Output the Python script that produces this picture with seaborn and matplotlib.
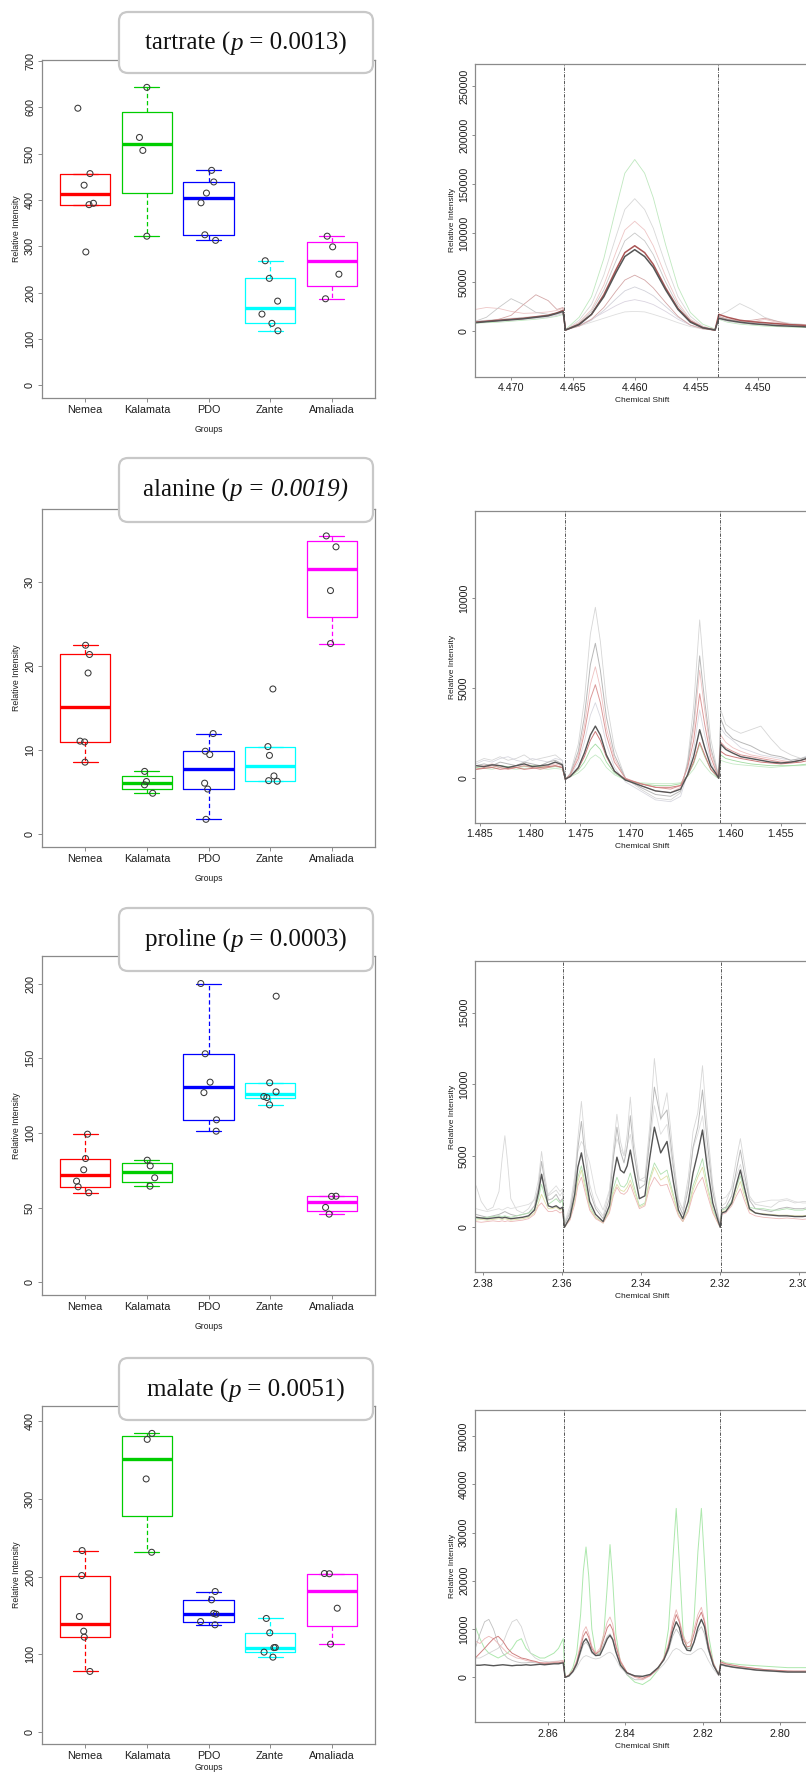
import numpy as np
import pandas as pd
import matplotlib
matplotlib.use("Agg")
import matplotlib.pyplot as plt
import matplotlib.cbook
from matplotlib.patches import FancyBboxPatch
import seaborn as sns

# ---------------- data: box plots ----------------
groups = ["Nemea", "Kalamata", "PDO", "Zante", "Amaliada"]

tartrate_nemea = [598, 457, 432, 390, 393, 288]
tartrate_kalamata = [643, 535, 507, 322]
tartrate_pdo = [464, 439, 415, 394, 325, 313]
tartrate_zante = [269, 231, 182, 154, 134, 118]
tartrate_amaliada = [322, 299, 240, 187]

alanine_nemea = [22.5, 21.4, 19.2, 11.0, 11.1, 8.6]
alanine_kalamata = [7.5, 6.3, 5.9, 4.9]
alanine_pdo = [12.0, 9.9, 9.5, 6.1, 5.4, 1.8]
alanine_zante = [17.3, 10.45, 9.4, 6.96, 6.4, 6.33]
alanine_amaliada = [35.5, 34.2, 29.0, 22.7]

proline_nemea = [99.2, 82.9, 75.4, 67.8, 64.0, 60.0]
proline_kalamata = [81.8, 78.0, 70.0, 64.4]
proline_pdo = [200, 153, 134, 127, 108.8, 101.2]
proline_zante = [191.5, 133.6, 127.5, 124.4, 123.7, 118.8]
proline_amaliada = [57.7, 57.6, 50.2, 45.7]

malate_nemea = [233.5, 201.3, 148.5, 129.6, 121.9, 77.7]
malate_kalamata = [384.5, 376.8, 325.8, 231.3]
malate_pdo = [180.7, 170, 152.5, 151.5, 142, 137.8]
malate_zante = [146, 127.5, 108.6, 108.4, 102.6, 96.1]
malate_amaliada = [203.9, 203.6, 159.2, 112.9]

# title pieces: (text, italic)
titles = [
    [("tartrate (", False), ("p", True), (" = 0.0013)", False)],
    [("alanine (", False), ("p = 0.0019)", True)],
    [("proline (", False), ("p", True), (" = 0.0003)", False)],
    [("malate (", False), ("p", True), (" = 0.0051)", False)],
]

box_yticks = [[0, 100, 200, 300, 400, 500, 600, 700],
              [0, 10, 20, 30],
              [0, 50, 100, 150, 200],
              [0, 100, 200, 300, 400]]

# ---------------- data: spectra ----------------
# tartrate region (intensities in thousands)
s1_shift = [4.4729, 4.4720, 4.4710, 4.4700, 4.4690, 4.4680, 4.4670, 4.4663, 4.4658,
            4.4656, 4.4645, 4.4635, 4.4625, 4.4615, 4.4608, 4.4600, 4.4592, 4.4585, 4.4575, 4.4565, 4.4555, 4.4545, 4.4535,
            4.4532, 4.4525, 4.4515, 4.4505, 4.4495, 4.4485, 4.4475, 4.4465, 4.4459]
s1_k = [
    [8, 8.5, 9, 10, 11, 12, 13.5, 15, 17,
     1.5, 14, 35, 74, 126, 161, 175, 161, 136, 88, 45, 19, 7, 2,
     12, 9, 7, 6, 5, 4.5, 4, 3.8, 3.5],
    [10, 11, 12, 13, 14, 15, 16.5, 18, 20,
     1, 11, 27, 57, 97, 124, 135, 124, 105, 68, 35, 15, 5, 1.5,
     16, 20, 28, 22, 14, 10, 8, 7, 6],
    [22, 24, 23, 20, 18, 18.5, 19.5, 21, 23,
     1, 9, 22, 47, 81, 103, 112, 103, 87, 56, 29, 12, 4.5, 1,
     14, 12, 10, 9, 12, 9, 7, 6, 5.5],
    [10, 14, 24, 33, 27, 19, 17, 18, 20,
     1, 8, 20, 42, 72, 92, 100, 92, 78, 50, 26, 11, 4, 1,
     15, 12, 10, 8.5, 7.5, 7, 6, 5.5, 5],
    [10, 10.5, 11, 12, 13, 14, 15, 17, 19,
     1.5, 5, 11, 21, 33, 41, 45, 41, 36, 25, 14, 6, 2.5, 1,
     14, 11, 9, 8, 7, 6.5, 6, 5.5, 5],
    [9, 9.5, 10, 11, 12, 13, 14, 16, 18,
     2, 6, 12, 19, 26, 30, 32, 30, 27, 20, 12, 6, 2.5, 1,
     13, 10, 8.5, 7.5, 7, 6, 5.5, 5, 5],
    [9.5, 10, 10.5, 11.5, 12.5, 13.5, 15, 17, 19,
     2, 5, 9, 13, 17, 19.5, 20, 19.5, 17, 13, 8.5, 4.5, 2, 1,
     12, 10, 8, 7, 6.5, 6, 5.5, 5, 4.8],
    [9, 10, 12, 16, 27, 37, 31, 22, 24,
     1, 5, 12, 24, 41, 52, 57, 52, 44, 29, 15, 6, 2.3, 0.6,
     15, 12, 10, 11, 13, 10, 7, 6, 5.5],
    [9, 10, 11, 12, 13, 14.5, 16, 18.5, 21,
     1, 7, 17, 37, 63, 80, 87, 80, 68, 44, 23, 10, 3.5, 1,
     17, 14, 11, 9.5, 8.5, 7.5, 6.5, 6, 5.5],
    [8.5, 9.5, 10.5, 11.5, 12.5, 14, 15.5, 18, 20,
     1, 6.5, 17, 35, 60, 76, 83, 76, 65, 42, 22, 9, 3.3, 1,
     13, 11, 9, 7.5, 6.5, 5.5, 5, 4.5, 4],
]
s1_colors = ["#bfe8bf", "#d8d8d8", "#eec6c6", "#c8c8c8", "#d2d2da", "#dad4e0",
             "#dedede", "#d4a8a8", "#aa5656", "#555555"]
s1_widths = [0.6, 0.6, 0.6, 0.6, 0.6, 0.6, 0.6, 0.6, 1.1, 1.1]

# alanine region
s2_shift = [1.4854, 1.4846, 1.4838, 1.4830, 1.4822, 1.4814, 1.4806, 1.4798, 1.4790, 1.4782, 1.4775, 1.4768,
            1.4765, 1.4760, 1.4752, 1.4746, 1.4740, 1.4735, 1.4730, 1.4724, 1.4716, 1.4705, 1.4690, 1.4675,
            1.4660, 1.4650, 1.4643, 1.4637, 1.4631, 1.4626, 1.4620, 1.4614, 1.4612,
            1.4610, 1.4605, 1.4598, 1.4590, 1.4580, 1.4570, 1.4560, 1.4550, 1.4540, 1.4530, 1.4522]
s2_y = [
    [900, 1100, 1000, 1200, 1000, 1100, 1300, 1000, 1100, 1200, 1300, 1000,
     -100, 300, 1900, 4300, 8000, 9500, 7600, 4300, 1700, 0, -600, -1100, -1200, -800, 1000, 4000, 8800, 5500, 2200, 600, 100,
     3800, 3000, 2700, 2500, 2700, 2900, 2200, 1600, 1300, 1100, 1200],
    [800, 1000, 900, 1100, 1200, 1000, 900, 1100, 1000, 900, 1100, 1000,
     -100, 150, 900, 2000, 3500, 4200, 3400, 1900, 600, -200, -700, -1200, -1300, -1000, 300, 1600, 3800, 2400, 900, 200, 50,
     2800, 2400, 2100, 1700, 1500, 1300, 1200, 1100, 1000, 1100, 1300],
    [600, 700, 800, 700, 600, 700, 800, 700, 600, 700, 800, 700,
     -50, 200, 1300, 2900, 5200, 6200, 5000, 2800, 1100, 0, -400, -700, -800, -500, 700, 2700, 6000, 3800, 1500, 400, 100,
     2400, 2000, 1700, 1500, 1300, 1200, 1100, 1000, 900, 1000, 1100],
    [500, 550, 500, 600, 550, 500, 550, 600, 550, 500, 550, 500,
     0, 80, 300, 600, 1100, 1300, 1100, 600, 200, -100, -250, -300, -300, -250, 100, 500, 1100, 700, 300, 50, 0,
     1000, 900, 800, 750, 700, 650, 600, 650, 700, 700, 750],
    [600, 650, 600, 700, 650, 600, 650, 700, 650, 600, 650, 600,
     0, 100, 450, 900, 1600, 1900, 1600, 900, 300, -100, -300, -400, -400, -300, 150, 800, 1900, 1200, 500, 100, 0,
     1300, 1100, 1000, 900, 800, 750, 700, 700, 700, 750, 800],
    [700, 800, 700, 900, 800, 700, 900, 800, 700, 900, 1000, 800,
     -100, 250, 1500, 3400, 6300, 7500, 6000, 3400, 1300, 0, -500, -900, -1000, -700, 800, 3100, 6800, 4300, 1700, 500, 100,
     3300, 2600, 2200, 2000, 1800, 1500, 1300, 1200, 1000, 1100, 1200],
    [500, 600, 700, 600, 500, 600, 700, 600, 500, 600, 700, 600,
     -50, 200, 1100, 2500, 4400, 5200, 4200, 2400, 900, 0, -300, -500, -600, -400, 600, 2100, 4700, 3000, 1200, 300, 100,
     2000, 1700, 1500, 1300, 1200, 1100, 1000, 900, 900, 1000, 1100],
    [500, 550, 600, 500, 550, 600, 500, 550, 600, 650, 700, 600,
     -50, 100, 550, 1200, 2100, 2600, 2100, 1200, 400, -50, -300, -500, -500, -400, 150, 900, 2000, 1300, 500, 150, 0,
     1500, 1300, 1200, 1100, 1000, 900, 850, 800, 850, 900, 1000],
    [700, 650, 750, 700, 600, 700, 800, 650, 700, 750, 900, 750,
     -50, 100, 600, 1400, 2400, 2900, 2400, 1300, 400, -100, -400, -700, -800, -600, 200, 1200, 2700, 1700, 700, 200, 0,
     1900, 1600, 1400, 1200, 1100, 1000, 900, 850, 900, 1000, 1150],
]
s2_colors = ["#d6d6d6", "#d8d8e0", "#eec2c2", "#c6eac6", "#a2dca2", "#b8b8b8",
             "#dc9a9a", "#cc7a7a", "#555555"]
s2_widths = [0.6, 0.6, 0.6, 0.6, 0.6, 0.7, 0.7, 0.7, 1.0]

# proline region
s3_shift = [2.3818, 2.3805, 2.3790, 2.3775, 2.3760, 2.3752, 2.3745, 2.3738, 2.3730, 2.3715, 2.3700,
            2.3685, 2.3670, 2.3660, 2.3652, 2.3644, 2.3635, 2.3625, 2.3615, 2.3605, 2.3599,
            2.3594, 2.3580, 2.3568, 2.3560, 2.3551, 2.3542, 2.3530, 2.3515, 2.3496, 2.3480, 2.3470,
            2.3461, 2.3452, 2.3443, 2.3435, 2.3427, 2.3418, 2.3404, 2.3390, 2.3378, 2.3366, 2.3350,
            2.3334, 2.3318, 2.3305, 2.3294, 2.3280, 2.3268, 2.3256, 2.3244, 2.3232, 2.3218, 2.3205, 2.3199,
            2.3195, 2.3185, 2.3170, 2.3158, 2.3148, 2.3138, 2.3125, 2.3110, 2.3090, 2.3070, 2.3050,
            2.3030, 2.3010, 2.2990, 2.2975]
s3_y = [
    [2900, 1800, 1200, 1400, 2500, 4800, 6400, 4500, 2000, 1200, 1000, 1300, 2000, 3300, 5300, 3600, 2200, 2400, 2600, 2200, 2500,
     300, 1200, 3500, 6200, 8800, 6000, 3000, 1500, 800, 2500, 5500, 7900, 6000, 5000, 6500, 9100, 6000, 3300, 3500, 7000,
     11800, 7500, 9400, 5000, 2000, 1200, 3500, 6700, 8000, 11300, 7000, 3000, 1000, 200,
     1500, 1700, 2800, 4800, 6200, 4500, 2200, 1600, 1500, 1400, 1800, 1900, 1700, 1800, 1800],
    [1300, 1200, 1100, 1200, 1300, 1200, 1300, 1400, 1300, 1400, 1500, 1600, 1900, 2600, 3800, 2800, 2300, 2600, 2900, 2500, 2700,
     300, 1500, 3600, 5300, 6000, 5600, 4500, 2400, 1200, 2600, 5000, 6200, 5500, 5000, 5700, 6500, 5000, 3300, 3200, 5800,
     8500, 6500, 7200, 4000, 1800, 1300, 3000, 5500, 6500, 7800, 5000, 2500, 900, 200,
     2000, 2100, 2700, 3600, 4400, 3300, 2000, 1700, 1800, 1900, 1900, 2000, 1800, 1700, 1700],
    [900, 800, 700, 800, 900, 1000, 1100, 1000, 900, 800, 900, 1000, 1500, 2800, 4600, 3200, 1900, 2000, 2300, 1800, 2000,
     200, 1000, 3000, 5500, 7400, 5000, 2500, 1300, 600, 2000, 4800, 7000, 5300, 4500, 5600, 7800, 5300, 2700, 3000, 6200,
     9800, 7600, 8200, 4300, 1600, 900, 2700, 5600, 7000, 9600, 6000, 2500, 800, 100,
     1300, 1400, 2200, 4000, 5400, 3800, 1900, 1300, 1200, 1100, 1300, 1400, 1300, 1300, 1400],
    [600, 650, 700, 750, 800, 750, 800, 750, 700, 800, 900, 1000, 1300, 2000, 3000, 2200, 1600, 1800, 2000, 1700, 1900,
     0, 600, 2000, 3500, 4300, 3100, 1500, 700, 300, 1200, 2700, 3500, 2900, 2800, 3100, 3800, 2900, 1500, 1700, 3400,
     4500, 3700, 4000, 2300, 900, 400, 1300, 2900, 3800, 4800, 3000, 1300, 400, 0,
     1200, 1300, 1800, 2800, 3600, 2500, 1400, 1300, 1300, 1200, 1200, 1300, 1200, 1200, 1300],
    [500, 550, 500, 550, 600, 550, 600, 550, 500, 550, 600, 700, 1000, 1700, 2300, 1800, 1300, 1300, 1400, 1200, 1300,
     0, 550, 1800, 3200, 4000, 2800, 1300, 700, 300, 1100, 2400, 3000, 2600, 2500, 2800, 3300, 2600, 1400, 1600, 3200,
     4200, 3300, 3600, 2100, 900, 400, 1200, 2600, 3500, 4200, 2700, 1100, 300, 0,
     1100, 1150, 1600, 2500, 3200, 2200, 1200, 1000, 950, 900, 850, 850, 800, 800, 850],
    [400, 350, 400, 450, 400, 450, 400, 450, 400, 450, 500, 600, 900, 1500, 1700, 1400, 1100, 1100, 1200, 1000, 1100,
     0, 500, 1600, 2900, 3500, 2500, 1200, 600, 300, 1000, 2200, 2800, 2400, 2300, 2500, 3000, 2300, 1300, 1500, 2800,
     3500, 2900, 3000, 1800, 800, 400, 1100, 2300, 3000, 3500, 2300, 1000, 300, 0,
     900, 1000, 1500, 2200, 2700, 1900, 1000, 800, 700, 650, 600, 650, 600, 550, 600],
    [700, 650, 600, 650, 700, 650, 700, 650, 600, 650, 700, 800, 1200, 2400, 3700, 2600, 1500, 1400, 1500, 1300, 1400,
     0, 700, 2300, 4200, 5200, 3800, 1800, 900, 400, 1500, 3500, 4900, 4000, 3800, 4300, 5400, 4000, 2000, 2200, 4800,
     7000, 5200, 6000, 3200, 1200, 600, 1800, 3800, 5200, 6800, 4200, 1700, 500, 0,
     1000, 1100, 1700, 3000, 4000, 2800, 1300, 1000, 900, 850, 800, 800, 750, 750, 800],
]
s3_colors = ["#d8d8d8", "#dedede", "#bababa", "#b0e0b0", "#e0e0a8", "#ecb8b8", "#555555"]
s3_widths = [0.6, 0.6, 0.7, 0.6, 0.6, 0.6, 1.0]

# malate region (intensities in thousands)
s4_shift = [2.8787, 2.8775, 2.8763, 2.8752, 2.8740, 2.8728, 2.8716, 2.8704, 2.8692, 2.8680,
            2.8668, 2.8656, 2.8644, 2.8632, 2.8620, 2.8608, 2.8596, 2.8584, 2.8572, 2.8560,
            2.8555, 2.8545, 2.8535, 2.8525, 2.8515, 2.8508, 2.8501, 2.8494, 2.8486, 2.8476,
            2.8465, 2.8455, 2.8446, 2.8439, 2.8432, 2.8424, 2.8412, 2.8395, 2.8375, 2.8355,
            2.8335, 2.8315, 2.8300, 2.8288, 2.8277, 2.8268, 2.8260, 2.8250, 2.8240, 2.8231,
            2.8222, 2.8212, 2.8203, 2.8195, 2.8185, 2.8172, 2.8158,
            2.8153, 2.8140, 2.8120, 2.8100, 2.8080, 2.8060, 2.8040, 2.8020, 2.8000, 2.7980, 2.7960, 2.7940, 2.7925]
s4_k = [
    [10.5, 8, 6, 5, 4.5, 4, 4.5, 5, 6, 7.5, 8, 6, 5, 4.5, 4, 4, 4.5, 5, 6, 8,
     0, 0.5, 2, 5, 13, 22, 27, 21, 10, 5, 5, 9, 19, 27.5, 20, 9, 3, 0.5, -1, -1.5,
     -0.5, 1.5, 4, 10, 24, 35, 24, 9, 6, 6, 12, 26, 35, 24, 9, 3, 0.5,
     3.5, 3, 2.8, 2.6, 2.5, 2.4, 2.3, 2.2, 2.1, 2.0, 2.0, 2.0, 2.0],
    [4, 4, 4.5, 5, 5.5, 6, 7, 9.5, 11.5, 12, 10.5, 7.5, 5, 4, 3.5, 3.3, 3.2, 3.3, 3.4, 3.5,
     0, 0.2, 1, 2, 3.5, 4.2, 4.5, 4.3, 4, 3.8, 4, 4.5, 5, 5.2, 4.8, 3.8, 2, 0.7, 0.2, 0.1,
     0.5, 1.5, 2.7, 4, 5.5, 6, 5.7, 5, 4.7, 4.7, 5.2, 5.8, 6, 5.2, 3.5, 1.7, 0.3,
     2.8, 2.5, 2.2, 2, 1.8, 1.6, 1.5, 1.4, 1.3, 1.2, 1.2, 1.2, 1.2],
    [6, 9, 11.5, 12, 10, 7, 5, 4, 3.5, 3.2, 3, 3, 3.1, 3, 2.9, 2.8, 2.8, 2.9, 3, 3.2,
     0, 0.3, 1.2, 2.5, 5, 6.7, 7.3, 6.5, 5, 4.5, 5, 7, 8.5, 9, 8, 5.5, 2.5, 0.5, -0.5, -0.5,
     0.5, 2, 3.6, 5.5, 8.5, 10, 9, 7, 6, 6, 7.3, 9.5, 10.5, 9, 5.5, 2.5, 0.5,
     2.5, 2.3, 2, 1.8, 1.6, 1.4, 1.3, 1.2, 1.1, 1.0, 1.0, 1.0, 1.0],
    [7.5, 7, 8, 8.5, 8, 7, 6, 5, 4.5, 4, 3.8, 3.5, 3.3, 3.2, 3.0, 3.0, 3.1, 3.2, 3.3, 3.5,
     0, 0.5, 1.5, 3.5, 7, 9.5, 10.5, 9, 6.5, 5, 6, 9, 11.5, 12.5, 11, 7, 3.5, 1, 0, -0.5,
     0.3, 2, 4, 7, 11.5, 14, 12, 8.5, 7, 7.5, 10, 13, 14.5, 12, 7, 3, 0.5,
     3, 2.7, 2.4, 2.2, 2.0, 1.8, 1.6, 1.5, 1.4, 1.3, 1.2, 1.2, 1.2],
    [4, 5, 6, 7, 8, 8.5, 7.5, 6, 5, 4.5, 4, 3.8, 3.5, 3.3, 3.0, 2.9, 2.9, 3.0, 3.0, 3.2,
     0, 0.4, 1.3, 3, 6.3, 8.5, 9.5, 8.3, 6, 4.8, 5.5, 8, 10.3, 11, 9.8, 6.5, 3.2, 1, 0.2, -0.2,
     0.4, 1.8, 3.8, 6.5, 10.5, 13, 11.5, 8, 6.3, 6.5, 9, 12, 13.5, 11.5, 6.5, 2.8, 0.5,
     3.2, 2.8, 2.5, 2.2, 2, 1.8, 1.6, 1.5, 1.4, 1.3, 1.3, 1.3, 1.3],
    [2.5, 2.5, 2.6, 2.5, 2.4, 2.5, 2.6, 2.5, 2.4, 2.5, 2.5, 2.6, 2.5, 2.6, 2.7, 2.6, 2.7, 2.8, 2.8, 3.0,
     0, 0.3, 1.2, 2.8, 5.5, 7.3, 8, 7, 5.3, 4.5, 4.6, 6.3, 8, 8.7, 7.8, 5.3, 2.5, 0.9, 0.3, 0.2,
     0.6, 2, 3.6, 6, 9.5, 11.5, 10.3, 7, 5.6, 5.5, 7.3, 10.3, 12, 10.5, 6, 2.5, 0.5,
     2.7, 2.4, 2.1, 1.9, 1.7, 1.5, 1.4, 1.3, 1.2, 1.1, 1.1, 1.1, 1.1],
]
s4_colors = ["#ade8ad", "#d4d4d4", "#c0c0c0", "#ecb8b8", "#cf8282", "#555555"]
s4_widths = [0.7, 0.6, 0.6, 0.6, 0.7, 1.0]

# ---------------- R-style (Tukey hinge) box statistics ----------------
def tukey_boxplot_stats(X, whis=1.5, bootstrap=None, labels=None, autorange=False):
    out = []
    for x in X:
        x = np.sort(np.asarray(x, dtype=float))
        n = len(x)
        q1 = np.median(x[:(n + 1) // 2])
        q3 = np.median(x[n // 2:])
        iqr = q3 - q1
        inside = x[(x >= q1 - whis * iqr) & (x <= q3 + whis * iqr)]
        med = np.median(x)
        out.append(dict(mean=x.mean(), med=med, q1=q1, q3=q3, iqr=iqr,
                        cilo=med, cihi=med, whislo=inside.min(), whishi=inside.max(),
                        fliers=x[(x < inside.min()) | (x > inside.max())]))
    return out

matplotlib.cbook.boxplot_stats = tukey_boxplot_stats

# ---------------- figure ----------------
sns.set_theme(style="white")
plt.rcParams["font.family"] = ["Liberation Sans", "DejaVu Sans"]

W, H = 806, 1775
fig = plt.figure(figsize=(W / 100, H / 100), dpi=100)
fig.patch.set_facecolor("white")
renderer = fig.canvas.get_renderer()

def rect(x0, x1, y0, y1):
    return [x0 / W, 1 - y1 / H, (x1 - x0) / W, (y1 - y0) / H]

def piece_title(pieces, xc, base, size):
    texts = []
    for s, it in pieces:
        t = fig.text(0, 1 - base / H, s, fontsize=size, ha="left", va="baseline",
                     family=["Liberation Serif", "DejaVu Serif"],
                     style="italic" if it else "normal", color="#111111", zorder=6)
        texts.append(t)
    widths = [t.get_window_extent(renderer).width for t in texts]
    x = xc - sum(widths) / 2
    for t, w in zip(texts, widths):
        t.set_x(x / W)
        x += w

FRAME = "#8a8a8a"
TXT = "#1e1e1e"
group_colors = ["#FF0000", "#00CD00", "#0000FF", "#00FFFF", "#FF00FF"]

box_sets = [
    [tartrate_nemea, tartrate_kalamata, tartrate_pdo, tartrate_zante, tartrate_amaliada],
    [alanine_nemea, alanine_kalamata, alanine_pdo, alanine_zante, alanine_amaliada],
    [proline_nemea, proline_kalamata, proline_pdo, proline_zante, proline_amaliada],
    [malate_nemea, malate_kalamata, malate_pdo, malate_zante, malate_amaliada],
]
box_rows = [(60, 398), (509, 847), (956, 1295), (1405.7, 1744.3)]
box_ylims = [(-27, 702), (-1.49, 38.7), (-8.4, 218.4), (-16.2, 420.2)]
title_boxes = [(12, 73, 50), (458, 522, 497), (908, 971, 947), (1358, 1420, 1397)]
xlabel_pads = [7, 7, 7, 1.5]

np.random.seed(7)
for vals, (top, bot), ylim, yt, title, (tb0, tb1, tbase), xlp in zip(
        box_sets, box_rows, box_ylims, box_yticks, titles, title_boxes, xlabel_pads):
    ax = fig.add_axes(rect(42, 375, top, bot))
    df = pd.DataFrame({"group": np.repeat(groups, [len(v) for v in vals]),
                       "value": np.concatenate(vals)})
    sns.boxplot(data=df, x="group", y="value", hue="group", order=groups,
                hue_order=groups, palette=group_colors, fill=False, width=0.82,
                linewidth=0.9, showfliers=False, legend=False,
                whiskerprops={"linestyle": (0, (3.5, 2.2))},
                medianprops={"linewidth": 2.4}, ax=ax)
    sns.stripplot(data=df, x="group", y="value", order=groups, color="none",
                  edgecolor="#383838", linewidth=0.75, size=4.3, jitter=0.14,
                  ax=ax, zorder=4)
    ax.set_xlim(-0.7, 4.7)
    ax.set_ylim(*ylim)
    ax.set_yticks(yt)
    ax.set_xlabel("Groups", fontsize=6.2, color=TXT, labelpad=xlp)
    ax.set_ylabel("Relative Intensity", fontsize=6.3, color=TXT, labelpad=3)
    ax.tick_params(axis="both", length=3, width=0.7, color=FRAME, labelsize=7.8,
                   labelcolor=TXT, pad=2, left=True, bottom=True)
    for lab in ax.get_yticklabels():
        lab.set_rotation(90)
        lab.set_va("center")
    for sp in ax.spines.values():
        sp.set_color(FRAME)
        sp.set_linewidth(0.9)
        sp.set_visible(True)
    # title box
    box = FancyBboxPatch((119 / W, 1 - tb1 / H), 254 / W, (tb1 - tb0) / H,
                         boxstyle="round,pad=0,rounding_size=%f" % (9 / W),
                         mutation_aspect=W / H, transform=fig.transFigure,
                         facecolor="white", edgecolor="#c8c8c8", linewidth=1.6,
                         zorder=5)
    fig.add_artist(box)
    piece_title(title, 246, tbase, 18)

spectra = [
    (s1_shift, s1_k, 1000, s1_colors, s1_widths, (64, 376.7), (4.4729, 4.4459), (-46600, 272400),
     [0, 50000, 100000, 150000, 200000, 250000], [4.470, 4.465, 4.460, 4.455, 4.450], "%.3f", [4.46575, 4.45328]),
    (s2_shift, s2_y, 1, s2_colors, s2_widths, (511, 822.7), (1.48547, 1.4522), (-2467, 14850),
     [0, 5000, 10000], [1.485, 1.480, 1.475, 1.470, 1.465, 1.460, 1.455], "%.3f", [1.47657, 1.4611]),
    (s3_shift, s3_y, 1, s3_colors, s3_widths, (960.7, 1272.3), (2.3820, 2.2974), (-3147, 18636),
     [0, 5000, 10000, 15000], [2.38, 2.36, 2.34, 2.32, 2.30], "%.2f", [2.3597, 2.3197]),
    (s4_shift, s4_k, 1000, s4_colors, s4_widths, (1410, 1722.3), (2.8787, 2.7925), (-9323, 55386),
     [0, 10000, 20000, 30000, 40000, 50000], [2.86, 2.84, 2.82, 2.80], "%.2f", [2.8557, 2.8155]),
]

for shift, curves, unit, cols, wids, (top, bot), xlim, ylim, yt, xt, fmt, dash in spectra:
    ax = fig.add_axes(rect(475.3, 809, top, bot))
    names = ["c%d" % k for k in range(len(curves))]
    for nm, c in zip(names, curves):
        if len(c) != len(shift):
            raise ValueError("length mismatch %s: %d vs %d" % (nm, len(c), len(shift)))
    df = pd.DataFrame({"shift": np.tile(shift, len(curves)),
                       "intensity": np.concatenate([np.asarray(c, float) * unit for c in curves]),
                       "curve": np.repeat(names, len(shift))})
    sns.lineplot(data=df, x="shift", y="intensity", hue="curve", size="curve",
                 hue_order=names, size_order=names,
                 palette=dict(zip(names, cols)), sizes=dict(zip(names, wids)),
                 estimator=None, sort=False, legend=False, ax=ax)
    for d in dash:
        ax.axvline(d, color="#3c3c3c", linewidth=0.6, linestyle=(0, (4, 1.5, 1, 1.5)), zorder=5)
    ax.set_xlim(*xlim)
    ax.set_ylim(*ylim)
    ax.set_yticks(yt)
    ax.set_yticklabels([str(v) for v in yt])
    ax.set_xticks(xt)
    ax.set_xticklabels([fmt % v for v in xt])
    ax.set_xlabel("Chemical Shift", fontsize=6.0, color=TXT, labelpad=3)
    ax.set_ylabel("Relative Intensity", fontsize=6.0, color=TXT, labelpad=2)
    ax.tick_params(axis="both", length=2.5, width=0.7, color=FRAME, labelsize=7.7,
                   labelcolor=TXT, pad=2, left=True, bottom=True)
    for lab in ax.get_yticklabels():
        lab.set_rotation(90)
        lab.set_va("center")
    for sp in ax.spines.values():
        sp.set_color(FRAME)
        sp.set_linewidth(0.9)
        sp.set_visible(True)

fig.savefig("out.png", dpi=100, facecolor="white")
